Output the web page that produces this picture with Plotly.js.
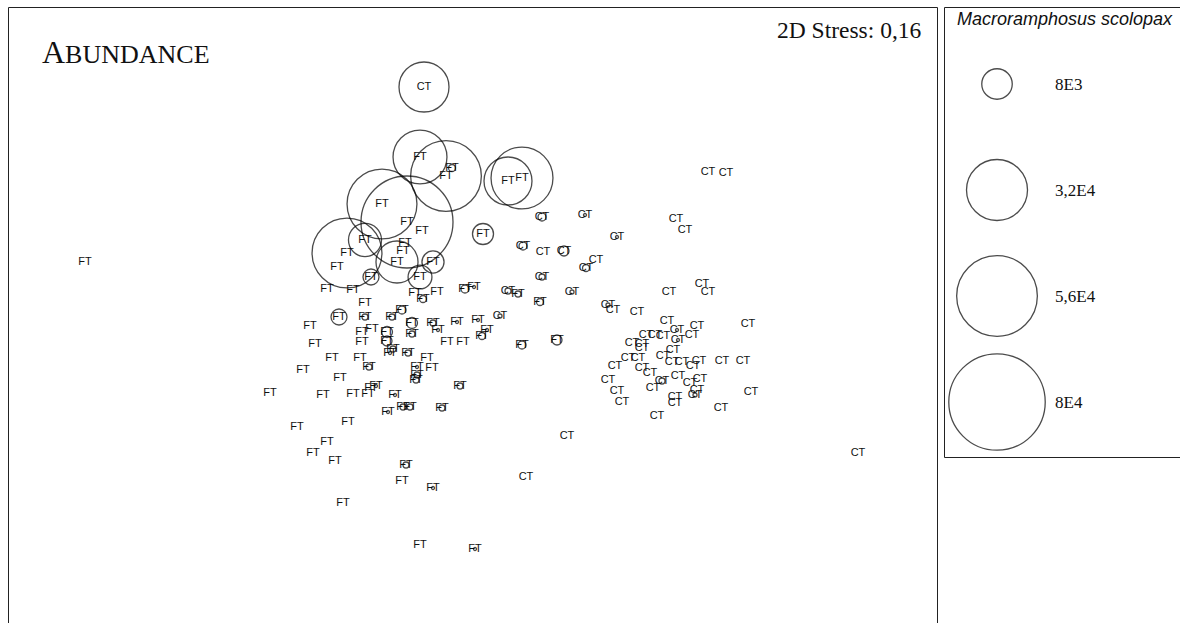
<!DOCTYPE html>
<html>
<head>
<meta charset="utf-8">
<script src="https://cdn.plot.ly/plotly-3.0.1.min.js"></script>
<style>html,body{margin:0;padding:0;background:#fff;}#chart{width:1180px;height:623px;}</style>
</head>
<body>
<div id="chart"></div>
<script>
// MDS coordinates of FT samples
const ftX = [-3.85,-0.50,-0.18,-0.24,0.38,0.52,-0.88,-0.63,-0.48,-1.05,-0.65,-0.67,-1.23,-1.33,0.13,-0.73,-0.37,-0.99,-0.50,-1.43,-1.17,-0.55,-0.33,-1.05,-0.47,-0.05,0.04,0.48,0.70,-1.31,-1.05,-0.78,-0.68,-0.58,-0.37,-0.13,0.08,-1.60,-1.08,-0.98,-0.83,-0.58,-0.32,-0.23,-0.07,0.12,0.17,0.52,0.87,-1.55,-1.08,-0.83,-0.77,-0.80,-0.62,-0.43,-0.38,-0.53,-0.53,-0.54,-1.38,-1.10,-1.01,-1.67,-1.30,-0.99,-0.94,-2.00,-1.47,-1.17,-1.02,-0.75,-0.10,-0.82,-0.67,-0.60,-0.28,-1.22,-1.73,-1.43,-1.57,-1.35,-0.64,-0.68,-0.37,-1.27,-0.50,0.05];
const ftY = [0.68,1.73,1.62,1.54,1.49,1.52,1.26,1.08,0.99,0.90,0.87,0.79,0.77,0.63,0.96,0.68,0.68,0.53,0.53,0.41,0.40,0.37,0.38,0.27,0.31,0.41,0.43,0.36,0.28,0.13,0.13,0.13,0.20,0.07,0.07,0.08,0.10,0.04,-0.02,0.01,-0.02,-0.04,0.00,-0.12,-0.12,-0.06,0.00,-0.15,-0.10,-0.14,-0.12,-0.11,-0.19,-0.23,-0.23,-0.28,-0.38,-0.37,-0.45,-0.50,-0.28,-0.28,-0.37,-0.40,-0.48,-0.58,-0.56,-0.63,-0.65,-0.64,-0.64,-0.65,-0.56,-0.82,-0.77,-0.77,-0.78,-0.92,-0.97,-1.12,-1.23,-1.31,-1.35,-1.51,-1.58,-1.73,-2.15,-2.19];
const ftAbundance = [0,25000,420,43000,19800,33000,42000,72800,0,9400,0,0,42000,0,3800,15200,4200,2200,4900,0,0,0,0,0,420,550,80,310,420,2200,310,310,550,1040,310,80,80,0,0,0,1040,310,80,0,0,420,80,550,860,0,0,860,310,80,310,0,0,80,310,310,0,0,310,0,0,0,80,0,0,0,0,80,310,80,310,310,310,0,0,0,0,0,310,0,80,0,0,80];

// MDS coordinates of CT samples
const ctX = [-0.46,2.38,2.56,0.72,1.15,2.06,2.15,0.53,0.73,0.94,1.47,1.26,1.16,0.72,0.38,1.02,0.30,1.38,1.43,1.67,1.99,2.32,2.38,1.97,2.07,2.27,2.78,1.76,1.85,1.93,2.22,2.08,1.62,1.72,1.72,2.03,1.58,1.68,1.93,2.02,2.12,2.29,2.52,2.73,1.45,1.72,1.80,2.23,2.08,2.20,2.30,1.92,1.83,1.38,1.47,1.52,2.27,2.25,2.05,2.05,2.81,2.51,1.87,0.97,0.56,3.88];
const ctY = [2.43,1.58,1.57,1.13,1.15,1.11,1.00,0.84,0.78,0.79,0.93,0.70,0.62,0.53,0.39,0.38,0.14,0.25,0.20,0.18,0.38,0.46,0.38,0.09,0.00,0.04,0.06,-0.05,-0.05,-0.06,-0.05,-0.10,-0.13,-0.14,-0.18,-0.20,-0.28,-0.28,-0.26,-0.32,-0.32,-0.31,-0.31,-0.31,-0.36,-0.38,-0.43,-0.36,-0.46,-0.53,-0.49,-0.51,-0.58,-0.50,-0.61,-0.72,-0.60,-0.65,-0.67,-0.73,-0.62,-0.78,-0.86,-1.06,-1.47,-1.23];
const ctAbundance = [21500,0,0,550,80,0,0,550,0,860,80,0,420,310,310,140,140,140,0,0,0,0,0,0,80,0,0,0,0,0,0,80,0,0,0,0,0,0,0,0,0,0,0,0,0,0,0,0,0,0,0,310,0,0,0,0,0,140,0,0,0,0,0,0,0,0];

// Bubble legend
const legendValues = [8000, 32000, 56000, 80000];
const legendLabels = ['8E3', '3,2E4', '5,6E4', '8E4'];
const speciesName = 'Macroramphosus scolopax';
const stressText = '2D Stress: 0,16';

const SIZEREF = 17.2;
const lineCol = '#000';

function bubbles(xs, ys, ab) {
  const bx = [], by = [], bs = [];
  ab.forEach((v, i) => { if (v > 0) { bx.push(xs[i]); by.push(ys[i]); bs.push(v); } });
  return {
    type: 'scatter', mode: 'markers', x: bx, y: by, hoverinfo: 'skip',
    marker: { size: bs, sizemode: 'area', sizeref: SIZEREF, sizemin: 0,
      color: 'rgba(0,0,0,0)', line: { color: lineCol, width: 1.3 } },
    showlegend: false, cliponaxis: false
  };
}
function labels(xs, ys, name) {
  return {
    type: 'scatter', mode: 'text', x: xs, y: ys, text: xs.map(() => name),
    textposition: 'middle center', hoverinfo: 'skip',
    textfont: { family: 'Liberation Sans, Arial, sans-serif', size: 11, color: '#111' },
    showlegend: false, cliponaxis: false
  };
}

const legendIdx = legendValues.map((v, i) => i);
const data = [
  labels(ftX, ftY, 'FT'),
  labels(ctX, ctY, 'CT'),
  bubbles(ftX, ftY, ftAbundance),
  bubbles(ctX, ctY, ctAbundance),
  {
    type: 'scatter', mode: 'markers', xaxis: 'x2', yaxis: 'y2',
    x: legendValues.map(() => 0.2246), y: legendIdx, hoverinfo: 'skip',
    marker: { size: legendValues, sizemode: 'area', sizeref: SIZEREF,
      color: 'rgba(0,0,0,0)', line: { color: lineCol, width: 1.3 } },
    showlegend: false, cliponaxis: false
  }
];

const annotations = [
  { xref: 'paper', yref: 'paper', x: 40 / 1180, y: 1 - 52 / 623, xanchor: 'left', yanchor: 'middle',
    text: 'A<span style="font-size:26px">BUNDANCE</span>', showarrow: false,
    font: { family: 'Liberation Serif, Times New Roman, serif', size: 32, color: '#111' } },
  { xref: 'paper', yref: 'paper', x: 924 / 1180, y: 1 - 30 / 623, xanchor: 'right', yanchor: 'middle',
    text: stressText, showarrow: false,
    font: { family: 'Liberation Serif, Times New Roman, serif', size: 23.5, color: '#111' } },
  { xref: 'paper', yref: 'paper', x: 1065 / 1180, y: 1 - 19 / 623, xanchor: 'center', yanchor: 'middle',
    text: '<i>' + speciesName + '</i>', showarrow: false,
    font: { family: 'Liberation Sans, Arial, sans-serif', size: 18, color: '#111' } }
].concat(legendLabels.map((t, i) => ({
  xref: 'x2', yref: 'y2', x: 0.462, y: i, xanchor: 'left', yanchor: 'middle', text: t, showarrow: false,
  font: { family: 'Liberation Serif, Times New Roman, serif', size: 17, color: '#111' }
})));

const layout = {
  width: 1180, height: 623,
  margin: { l: 0, r: 0, t: 0, b: 0, pad: 0 },
  paper_bgcolor: '#fff', plot_bgcolor: 'rgba(0,0,0,0)',
  xaxis: { domain: [0, 1], range: [-4.70, 7.10], visible: false, fixedrange: true },
  yaxis: { domain: [0, 1], range: [-2.93, 3.30], visible: false, fixedrange: true },
  xaxis2: { domain: [944 / 1180, 1], range: [0, 1], visible: false, anchor: 'y2', fixedrange: true },
  yaxis2: { domain: [0, 1], range: [5.085, -0.7925], visible: false, anchor: 'x2', fixedrange: true },
  shapes: [
    { type: 'rect', xref: 'paper', yref: 'paper', x0: 8.5 / 1180, x1: 937.5 / 1180, y0: -0.05, y1: 1 - 7.5 / 623,
      line: { color: '#222', width: 1 }, fillcolor: 'rgba(0,0,0,0)' },
    { type: 'rect', xref: 'paper', yref: 'paper', x0: 944.5 / 1180, x1: 1.01, y0: 1 - 457.5 / 623, y1: 1 - 7.5 / 623,
      line: { color: '#222', width: 1 }, fillcolor: 'rgba(0,0,0,0)' }
  ],
  annotations: annotations,
  showlegend: false
};

Plotly.newPlot('chart', data, layout, { displayModeBar: false, staticPlot: true });
</script>
</body>
</html>
